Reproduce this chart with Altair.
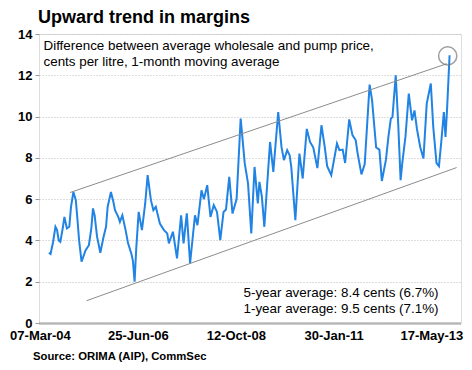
import altair as alt
import pandas as pd

START = pd.Timestamp("2004-03-07")

# weeks since 07-Mar-04 and margin (cents per litre)
weeks = [11, 13, 16, 19, 21, 23, 25, 28, 30, 33,
         36, 38, 41, 44, 46, 48, 51, 56, 60, 63,
         65, 67, 70, 74, 78, 81, 83, 87, 90, 92,
         96, 98, 101, 105, 108, 112, 114, 116, 118, 121,
         125, 129, 132, 136, 139, 142, 147, 152, 156, 158,
         163, 168, 173, 176, 180, 184, 190, 193, 198, 201,
         205, 209, 213, 217, 221, 225, 228, 232, 236, 241,
         246, 251, 255, 259, 263, 267, 269, 272, 275, 282,
         286, 292, 296, 299, 303, 306, 308, 313, 318, 322,
         327, 331, 335, 340, 345, 349, 352, 357, 364, 367,
         371, 374, 379, 383, 387, 389, 394, 398, 404, 407,
         412, 416, 419, 424, 427, 430, 432, 436, 439, 442,
         444, 448, 452, 456, 459, 462, 466, 470, 474, 479,
         482, 486, 489, 492, 495, 497, 499, 502]
margin = [3.40, 3.34, 3.9, 4.66, 4.5, 4.0, 3.93, 4.6, 5.14, 4.58,
          4.66, 5.6, 6.35, 5.95, 5.0, 4.0, 2.97, 3.53, 3.77, 4.6,
          5.55, 5.22, 4.18, 3.40, 4.18, 4.66, 5.63, 6.35, 5.87, 5.47,
          5.14, 4.9, 5.22, 4.5, 3.86, 3.37, 3.0, 2.0, 3.6, 5.38,
          4.5, 5.79, 7.16, 5.95, 5.47, 5.63, 4.82, 4.5, 4.34, 3.86,
          4.42, 3.13, 5.22, 3.86, 5.31, 2.89, 5.22, 4.74, 6.43, 6.0,
          6.68, 5.14, 5.71, 5.38, 4.02, 5.38, 5.5, 7.08, 5.3, 6.0,
          9.9, 7.73, 6.76, 4.34, 7.56, 5.79, 6.84, 6.11, 4.66, 8.77,
          7.32, 10.22, 8.53, 7.89, 8.37, 8.13, 7.56, 4.98, 8.21, 7.0,
          9.4, 8.77, 8.5, 7.5, 9.58, 8.53, 7.6, 7.16, 8.69, 8.37,
          8.4, 7.75, 9.86, 9.1, 8.85, 8.29, 7.2, 7.7, 11.55, 10.8,
          8.5, 8.4, 6.88, 7.9, 9.0, 9.9, 9.98, 12.0, 9.7, 6.92,
          7.73, 9.05, 11.11, 9.82, 10.3, 9.4, 8.53, 7.97, 10.63, 11.6,
          9.5, 7.75, 7.6, 8.85, 10.22, 9.01, 10.42, 12.97]

# trend channel (weeks, value) endpoints
trend_names = ["upper", "upper", "lower", "lower"]
trend_weeks = [36.8, 498.5, 57.2, 510.7]
trend_vals = [6.32, 12.56, 1.08, 7.53]

# highlight circle
circle_weeks = [499.7]
circle_vals = [12.94]

tick_dates = [(2004, 3, 7), (2006, 6, 25), (2008, 10, 12), (2011, 1, 30), (2013, 5, 17)]
y_ticks = [0, 2, 4, 6, 8, 10, 12, 14]

title = "Upward trend in margins"
note1 = "Difference between average wholesale and pump price,"
note2 = "cents per litre, 1-month moving average"
avg5 = "5-year average: 8.4 cents (6.7%)"
avg1 = "1-year average: 9.5 cents (7.1%)"
source = "Source: ORIMA (AIP), CommSec"


def to_date(w):
    return START + pd.to_timedelta(w * 7, unit="D")


df = pd.DataFrame({"date": [to_date(w) for w in weeks], "v": margin})
trend_df = pd.DataFrame({"line": trend_names,
                         "date": [to_date(w) for w in trend_weeks],
                         "v": trend_vals})
circ_df = pd.DataFrame({"date": [to_date(w) for w in circle_weeks], "v": circle_vals})

FONT = "Liberation Sans"


def xenc():
    return alt.X(
        "date:T",
        scale=alt.Scale(domain=[alt.DateTime(year=2004, month=2, date=28),
                                alt.DateTime(year=2014, month=1, date=26)]),
        axis=alt.Axis(values=[alt.DateTime(year=y, month=m, date=d) for y, m, d in tick_dates],
                      format="%d-%b-%y", labelFont=FONT, labelFontSize=13,
                      labelFontWeight="bold", labelColor="#000", labelFlush=False,
                      labelOverlap=False, labelPadding=6, ticks=False, grid=False,
                      domainColor="#999", domainWidth=3, domainDash=[1, 1]),
        title=None,
    )


def yenc():
    return alt.Y(
        "v:Q",
        scale=alt.Scale(domain=[0, 14], nice=False, zero=False),
        axis=alt.Axis(values=y_ticks, labelFont=FONT, labelFontSize=13,
                      labelFontWeight="bold", labelColor="#000", labelPadding=3,
                      tickSize=4, tickColor="#999", domain=False,
                      grid=True, gridColor="#bdbdbd", gridDash=[1, 2], gridWidth=1),
        title=None,
    )


line = alt.Chart(df).mark_line(color="#2183e3", strokeWidth=2).encode(x=xenc(), y=yenc())

trend = alt.Chart(trend_df).mark_line(color="#8c8c8c", strokeWidth=1).encode(
    x=xenc(), y=yenc(), detail="line:N")

circ = alt.Chart(circ_df).mark_point(shape="circle", filled=False, size=330,
                                     color="#777", strokeWidth=1.5).encode(x=xenc(), y=yenc())


def txt(s, x, y, size=13.4, weight="normal", align="left"):
    return alt.Chart(pd.DataFrame({"t": [s]})).mark_text(
        font=FONT, fontSize=size, fontWeight=weight, align=align,
        baseline="alphabetic", color="#000").encode(
        x=alt.value(x), y=alt.value(y), text="t:N")


chart = alt.layer(
    line, trend, circ,
    txt(title, -1, -11, size=18, weight="bold"),
    txt(note1, 4.5, 15.5),
    txt(note2, 4.5, 31.5),
    txt(avg5, 399.5, 263, align="right"),
    txt(avg1, 399.5, 279, align="right"),
    txt(source, -6, 326, size=11.3, weight="bold"),
).properties(
    width=422, height=289,
    autosize=alt.AutoSizeParams(type="none"),
    padding={"left": 31, "top": 26, "right": 3, "bottom": 39},
).configure_view(stroke="#666", strokeWidth=1.2).configure(background="white")

chart.save("out.html", embed_options={"renderer": "svg", "actions": False})
